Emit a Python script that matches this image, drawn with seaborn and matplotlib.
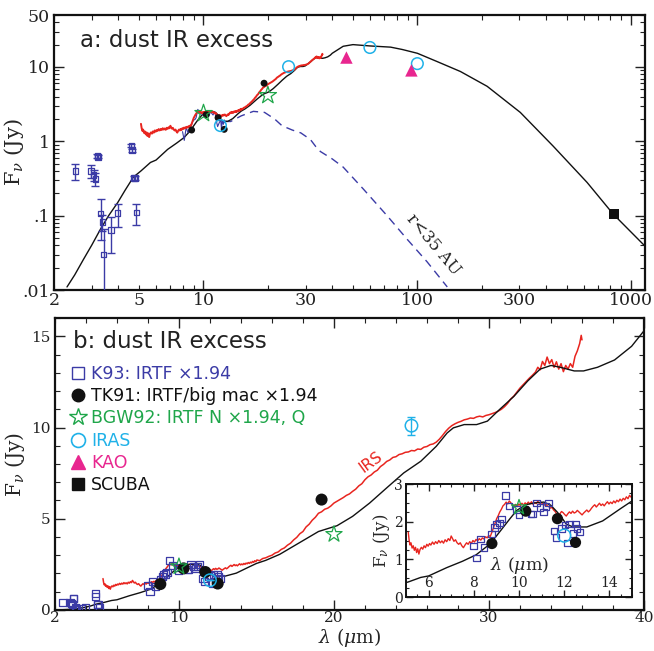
import seaborn as sns
import matplotlib.pyplot as plt
from matplotlib.ticker import FixedLocator, MultipleLocator, LogLocator, FuncFormatter
from matplotlib.lines import Line2D

BLUE = "#3b3ba6"
RED = "#e8251f"
GREEN = "#1fa64a"
CYAN = "#1fb1e8"
MAGENTA = "#e8268f"

# model SED (black line)
model_wl = [2.30, 2.50, 2.75, 3.00, 3.30, 3.60, 3.97, 4.30, 4.70, 5.10, 5.65, 6.00, 6.80, 7.50,
            8.10, 8.70, 9.00, 9.30, 9.60, 9.90, 10.30, 10.70, 11.10, 11.40, 11.70, 11.90, 12.10,
            12.40, 13.00, 13.70, 14.50, 15.00, 15.60, 16.50, 17.80, 19.00, 20.20, 21.20, 22.30,
            23.40, 24.50, 25.60, 26.60, 27.30, 27.70, 28.40, 29.20, 29.90, 30.70, 31.60, 32.50,
            33.30, 34.00, 34.60, 35.50, 36.10, 37.00, 38.10, 39.20, 40.00, 45.0, 50.0, 60.0,
            75.0, 85.0, 100.0, 124.0, 159.0, 212.0, 303.0, 432.0, 622.0, 824.0, 1160.0]
model_fl = [0.011, 0.016, 0.026, 0.040, 0.066, 0.10, 0.15, 0.22, 0.33, 0.40, 0.52, 0.56, 0.78, 0.95,
            1.12, 1.40, 1.62, 1.85, 2.08, 2.30, 2.45, 2.50, 2.52, 2.44, 2.25, 2.10, 1.93,
            1.86, 1.86, 2.02, 2.35, 2.55, 2.72, 3.05, 3.70, 4.30, 4.62, 5.13, 5.86,
            6.69, 7.51, 8.15, 8.97, 9.70, 9.98, 10.16, 10.16, 10.35, 11.00, 11.70, 12.55,
            13.20, 13.40, 13.30, 13.10, 13.10, 13.30, 13.70, 14.45, 15.30, 19.0, 20.0, 19.2,
            18.5, 17.2, 15.3, 11.8, 8.7, 5.5, 2.45, 0.86, 0.28, 0.105, 0.039]

# r<35 AU component (blue dashed)
inner_wl = [12.5, 13.4, 15.0, 17.1, 19.3, 21.5, 23.3, 26.0, 28.5, 31.6, 33.5, 35.2, 40.0, 45.0,
            56.0, 72.4, 89.7, 111.0, 138.0]
inner_fl = [1.85, 1.85, 2.20, 2.53, 2.45, 2.00, 1.62, 1.42, 1.30, 1.06, 0.85, 0.73, 0.58, 0.45,
            0.227, 0.099, 0.048, 0.024, 0.011]

# Spitzer IRS spectrum (red)
irs_wl = [5.10, 5.14, 5.18, 5.22, 5.27, 5.32, 5.37, 5.42, 5.47, 5.52, 5.57, 5.62, 5.68, 5.74, 5.80,
          5.86, 5.92, 5.98, 6.04, 6.10, 6.17, 6.24, 6.31, 6.38, 6.45, 6.52, 6.59, 6.66, 6.73, 6.80,
          6.87, 6.94, 7.00, 7.06, 7.12, 7.19, 7.26, 7.33, 7.40, 7.47, 7.54, 7.61, 7.68, 7.75, 7.82,
          7.89, 7.96, 8.03, 8.10, 8.17, 8.24, 8.31, 8.38, 8.45, 8.52, 8.59, 8.66, 8.73, 8.80, 8.87,
          8.94, 9.01, 9.08, 9.15, 9.22, 9.29, 9.36, 9.43, 9.50, 9.57, 9.64, 9.71, 9.78, 9.85, 9.92,
          9.99, 10.06, 10.13, 10.20, 10.27, 10.34, 10.41, 10.48, 10.55, 10.62, 10.69, 10.76, 10.83,
          10.90, 10.97, 11.04, 11.11, 11.18, 11.25, 11.32, 11.39, 11.46, 11.53, 11.60, 11.67, 11.74,
          11.81, 11.88, 11.95, 12.02, 12.09, 12.16, 12.23, 12.30, 12.37, 12.44, 12.51, 12.58, 12.65,
          12.72, 12.79, 12.86, 12.93, 13.00, 13.07, 13.14, 13.21, 13.28, 13.35, 13.42, 13.49, 13.56,
          13.63, 13.70, 13.77, 13.84, 13.91, 13.98, 14.05, 14.12, 14.19, 14.26, 14.33, 14.40, 14.47,
          14.54, 14.61, 14.68, 14.75, 14.82, 14.89, 14.96, 15.03,
          15.20, 15.40, 15.60, 15.80, 16.00, 16.20, 16.40, 16.60, 16.80, 17.00, 17.20, 17.40, 17.60,
          17.80, 18.00, 18.20, 18.40, 18.60, 18.80, 19.00, 19.20, 19.40, 19.60, 19.80, 20.00, 20.20,
          20.40, 20.60, 20.80, 21.00, 21.20, 21.40, 21.60, 21.80, 22.00, 22.20, 22.40, 22.60, 22.80,
          23.00, 23.20, 23.40, 23.60, 23.80, 24.00, 24.20, 24.40, 24.60, 24.80, 25.00, 25.20, 25.40,
          25.60, 25.80, 26.00, 26.20, 26.40, 26.60, 26.80, 27.00, 27.20, 27.40, 27.60, 27.80, 28.00,
          28.20, 28.40, 28.60, 28.80, 29.00, 29.20, 29.40, 29.60, 29.80, 30.00, 30.20, 30.40, 30.60,
          30.80, 31.00, 31.20, 31.40, 31.60, 31.80, 32.00, 32.20, 32.40, 32.60, 32.80, 33.00, 33.15,
          33.30, 33.45, 33.60, 33.75, 33.90, 34.05, 34.20, 34.35, 34.50, 34.65, 34.80, 34.95, 35.10,
          35.25, 35.40, 35.55, 35.70, 35.85, 35.95, 36.00]
irs_fl = [1.72, 1.50, 1.38, 1.44, 1.30, 1.36, 1.24, 1.32, 1.18, 1.28, 1.14, 1.26, 1.32, 1.27, 1.36,
          1.31, 1.40, 1.35, 1.42, 1.38, 1.46, 1.40, 1.47, 1.42, 1.50, 1.44, 1.49, 1.43, 1.52, 1.47,
          1.55, 1.50, 1.62, 1.55, 1.48, 1.52, 1.44, 1.40, 1.44, 1.36, 1.31, 1.38, 1.44, 1.40, 1.47,
          1.42, 1.50, 1.46, 1.53, 1.49, 1.55, 1.51, 1.57, 1.54, 1.60, 1.57, 1.63, 1.61, 1.72, 1.84,
          1.96, 2.08, 2.16, 2.26, 2.33, 2.42, 2.46, 2.52, 2.47, 2.55, 2.50, 2.45, 2.41, 2.46, 2.40,
          2.47, 2.43, 2.49, 2.44, 2.50, 2.46, 2.52, 2.47, 2.53, 2.46, 2.51, 2.48, 2.54,
          2.49, 2.52, 2.47, 2.44, 2.47, 2.42, 2.40, 2.36, 2.38, 2.31, 2.27, 2.20, 2.15,
          2.21, 2.27, 2.24, 2.19, 2.15, 2.21, 2.26, 2.22, 2.28, 2.23, 2.25, 2.30, 2.26,
          2.22, 2.18, 2.23, 2.27, 2.31, 2.26, 2.30, 2.36, 2.41, 2.45, 2.39, 2.44, 2.49,
          2.43, 2.47, 2.42, 2.48, 2.53, 2.47, 2.52, 2.48, 2.55, 2.50, 2.57, 2.53, 2.60,
          2.55, 2.62, 2.58, 2.66, 2.61, 2.70, 2.65, 2.74,
          2.70, 2.82, 2.86, 2.94, 3.00, 3.12, 3.18, 3.32, 3.40, 3.55, 3.66, 3.84, 3.98,
          4.18, 4.30, 4.55, 4.70, 4.92, 5.08, 5.30, 5.38, 5.52, 5.58, 5.70, 5.86, 5.96,
          6.06, 6.16, 6.28, 6.36, 6.50, 6.62, 6.80, 6.92, 7.14, 7.30, 7.40, 7.56, 7.66,
          7.86, 7.98, 8.14, 8.22, 8.36, 8.40, 8.52, 8.56, 8.64, 8.66, 8.74, 8.72, 8.82,
          8.80, 8.92, 8.96, 9.06, 9.10, 9.20, 9.36, 9.56, 9.78, 9.96, 10.10, 10.20, 10.28,
          10.34, 10.42, 10.46, 10.52, 10.50, 10.58, 10.62, 10.58, 10.66, 10.70, 10.76, 10.82, 10.90,
          11.00, 11.14, 11.32, 11.56, 11.72, 11.94, 12.16, 12.34, 12.52, 12.70, 12.86, 13.04, 13.30,
          13.16, 13.62, 13.40, 13.86, 13.50, 13.72, 13.30, 13.60, 13.20, 13.50, 13.06, 13.40, 13.20,
          13.50, 13.30, 13.90, 14.20, 14.60, 15.05, 14.80]

# K93 near-IR photometry with errors
k93_nir_wl = [2.52, 2.97, 3.06, 3.12, 3.19, 3.21, 3.30, 3.37, 3.41, 3.70, 3.97, 4.60, 4.62, 4.74, 4.78, 4.85]
k93_nir_fl = [0.40, 0.40, 0.35, 0.31, 0.64, 0.62, 0.107, 0.082, 0.030, 0.064, 0.108, 0.88, 0.76, 0.32, 0.32, 0.11]
k93_nir_err = [0.10, 0.08, 0.06, 0.06, 0.04, 0.03, 0.06, 0.02, 0.036, 0.033, 0.037, 0.04, 0.03, 0.02, 0.02, 0.035]

# K93 mid-IR spectrophotometry
k93_mir_wl = [7.98, 8.13, 8.30, 8.46, 8.79, 8.91, 9.01, 9.13, 9.23, 9.41, 9.56, 9.90, 10.00, 10.27,
              10.52, 10.60, 10.78, 10.93, 11.08, 11.19, 11.30, 11.55, 11.64, 11.89, 12.04, 12.14,
              12.23, 12.38, 12.51, 12.56, 12.70]
k93_mir_fl = [1.35, 1.03, 1.54, 1.31, 1.67, 1.85, 1.93, 1.97, 2.07, 2.69, 2.42, 2.33, 2.19, 2.33,
              2.20, 2.20, 2.49, 2.38, 2.26, 2.40, 2.49, 1.75, 1.58, 1.82, 1.91, 1.44,
              1.94, 1.69, 1.94, 1.82, 1.73]

tk91_wl = [8.8, 10.3, 11.7, 12.5, 19.2]
tk91_fl = [1.42, 2.28, 2.08, 1.45, 6.05]

bgw92_wl = [10.0, 20.0]
bgw92_fl = [2.38, 4.15]

iras_wl = [12.0, 25.0, 60.0, 100.0]
iras_fl = [1.63, 10.1, 18.3, 11.1]
iras_err = [0.0, 0.5, 0.0, 0.0]

kao_wl = [46.6, 93.8]
kao_fl = [13.4, 9.0]

scuba_wl = [830.0]
scuba_fl = [0.105]

sns.set_style("ticks")
plt.rcParams["font.family"] = ["DejaVu Serif"]
plt.rcParams["mathtext.fontset"] = "dejavuserif"
for a in ("x", "y"):
    plt.rcParams[f"{a}tick.direction"] = "in"
    plt.rcParams[f"{a}tick.major.size"] = 7
    plt.rcParams[f"{a}tick.minor.size"] = 3.5
    plt.rcParams[f"{a}tick.major.width"] = 1.0
    plt.rcParams[f"{a}tick.minor.width"] = 0.8
    plt.rcParams[f"{a}tick.color"] = "#222222"
plt.rcParams["xtick.top"] = True
plt.rcParams["ytick.right"] = True

fig = plt.figure(figsize=(6.54, 6.51), dpi=100)
ax1 = fig.add_axes([0.0826, 0.5545, 0.9036, 0.4224])
ax2 = fig.add_axes([0.084, 0.063, 0.9007, 0.4485])
ax3 = fig.add_axes([0.6208, 0.0829, 0.3456, 0.1736])

for ax in (ax1, ax2, ax3):
    for sp in ax.spines.values():
        sp.set_linewidth(1.6)
        sp.set_color("#111111")

# ---- panel a: log-log SED ----
ax = ax1
ax.set_xscale("log")
ax.set_yscale("log")
sns.lineplot(x=model_wl, y=model_fl, ax=ax, color="#111111", lw=1.0, sort=False, estimator=None, zorder=3)
sns.lineplot(x=inner_wl, y=inner_fl, ax=ax, color=BLUE, lw=1.0, sort=False, estimator=None, zorder=2)
ax.lines[-1].set_linestyle((0, (6, 4)))
sns.lineplot(x=irs_wl, y=irs_fl, ax=ax, color=RED, lw=1.4, sort=False, estimator=None, zorder=4)
sns.lineplot(x=k93_mir_wl, y=k93_mir_fl, ax=ax, color=BLUE, lw=0.8, sort=False, estimator=None, zorder=3)
ax.errorbar(k93_nir_wl, k93_nir_fl, yerr=k93_nir_err, fmt="none", ecolor=BLUE, elinewidth=1.0,
            capsize=3, capthick=1.0, zorder=4)
sns.scatterplot(x=k93_nir_wl, y=k93_nir_fl, ax=ax, marker="s", s=16, facecolor="none",
                edgecolor=BLUE, linewidth=0.9, zorder=5)
sns.scatterplot(x=tk91_wl, y=tk91_fl, ax=ax, marker="o", s=25, color="#111111",
                edgecolor="none", zorder=5)
sns.scatterplot(x=bgw92_wl, y=bgw92_fl, ax=ax, marker="*", s=170, facecolor="none",
                edgecolor=GREEN, linewidth=0.9, zorder=6)
sns.scatterplot(x=iras_wl, y=iras_fl, ax=ax, marker="o", s=70, facecolor="none",
                edgecolor=CYAN, linewidth=1.1, zorder=6)
sns.scatterplot(x=kao_wl, y=kao_fl, ax=ax, marker="^", s=80, color=MAGENTA, edgecolor="none", zorder=6)
sns.scatterplot(x=scuba_wl, y=scuba_fl, ax=ax, marker="s", s=60, color="#111111", edgecolor="none", zorder=6)

ax.set_xlim(2, 1160)
ax.set_ylim(0.01, 50)
ax.xaxis.set_major_locator(FixedLocator([10, 100, 1000]))
ax.xaxis.set_minor_locator(LogLocator(base=10, subs=range(2, 10), numticks=20))
ax.xaxis.set_major_formatter(FuncFormatter(lambda v, p: f"{v:g}"))
ax.xaxis.set_minor_formatter(FuncFormatter(lambda v, p: f"{v:g}" if round(v) in (2, 5, 30, 300) else ""))
ax.yaxis.set_major_locator(FixedLocator([0.01, 0.1, 1, 10]))
ax.yaxis.set_minor_locator(LogLocator(base=10, subs=range(2, 10), numticks=20))
ylab = {0.01: ".01", 0.1: ".1", 1: "1", 10: "10"}
ax.yaxis.set_major_formatter(FuncFormatter(lambda v, p: ylab.get(round(v, 3), f"{v:g}")))
ax.yaxis.set_minor_formatter(FuncFormatter(lambda v, p: "50" if abs(v - 50) < 1 else ""))
ax.tick_params(which="both", labelsize=12.5)
ax.tick_params(axis="x", which="both", pad=1.5)
ax.tick_params(axis="y", which="both", pad=3)
ax.set_xlabel("")
ax.set_ylabel(r"F$_\nu$ (Jy)", fontsize=15)
ax.yaxis.set_label_coords(-0.048, 0.5)
ax.text(0.044, 0.909, "a: dust IR excess", transform=ax.transAxes, fontsize=16.5,
        family="DejaVu Sans", va="center", ha="left", color="#222222")
ax.text(119, 0.041, "r<35 AU", rotation=-50, fontsize=12, ha="center", va="center", color="#222222")

# ---- panel b: linear SED ----
ax = ax2
sns.lineplot(x=model_wl, y=model_fl, ax=ax, color="#111111", lw=1.0, sort=False, estimator=None, zorder=3)
sns.lineplot(x=irs_wl, y=irs_fl, ax=ax, color=RED, lw=1.1, sort=False, estimator=None, zorder=2)
sns.scatterplot(x=k93_nir_wl + k93_mir_wl, y=k93_nir_fl + k93_mir_fl, ax=ax, marker="s", s=26,
                facecolor="none", edgecolor=BLUE, linewidth=0.9, zorder=4)
sns.scatterplot(x=tk91_wl, y=tk91_fl, ax=ax, marker="o", s=75, color="#111111", edgecolor="none", zorder=5)
sns.scatterplot(x=bgw92_wl, y=bgw92_fl, ax=ax, marker="*", s=150, facecolor="none",
                edgecolor=GREEN, linewidth=0.9, zorder=6)
ax.errorbar(iras_wl, iras_fl, yerr=iras_err, fmt="none", ecolor=CYAN, elinewidth=1.0,
            capsize=3, capthick=1.0, zorder=5)
sns.scatterplot(x=iras_wl, y=iras_fl, ax=ax, marker="o", s=80, facecolor="none",
                edgecolor=CYAN, linewidth=1.1, zorder=6)
ax.set_xlim(2, 40)
ax.set_ylim(0, 16)
ax.xaxis.set_major_locator(FixedLocator([10, 20, 30, 40]))
ax.xaxis.set_minor_locator(MultipleLocator(2))
ax.xaxis.set_minor_formatter(FuncFormatter(lambda v, p: "2" if abs(v - 2) < 0.01 else ""))
ax.yaxis.set_major_locator(MultipleLocator(5))
ax.yaxis.set_minor_locator(MultipleLocator(1))
ax.tick_params(which="both", labelsize=11)
ax.tick_params(axis="x", which="both", pad=1)
ax.tick_params(axis="y", which="both", pad=3)
ax.set_xlabel(r"$\lambda$ ($\mu$m)", fontsize=13.5)
ax.xaxis.set_label_coords(0.5, -0.054)
ax.set_ylabel(r"F$_\nu$ (Jy)", fontsize=14.5)
ax.yaxis.set_label_coords(-0.048, 0.5)
ax.text(0.03, 0.918, "b: dust IR excess", transform=ax.transAxes, fontsize=16.5,
        family="DejaVu Sans", va="center", ha="left", color="#222222")
ax.text(22.4, 8.1, "IRS", rotation=36, fontsize=11, family="DejaVu Sans", color=RED,
        ha="center", va="center")

handles = [
    Line2D([], [], ls="none", marker="s", ms=9, mfc="none", mec=BLUE, mew=1.0),
    Line2D([], [], ls="none", marker="o", ms=9, mfc="#111111", mec="#111111"),
    Line2D([], [], ls="none", marker="*", ms=13, mfc="none", mec=GREEN, mew=1.0),
    Line2D([], [], ls="none", marker="o", ms=10, mfc="none", mec=CYAN, mew=1.2),
    Line2D([], [], ls="none", marker="^", ms=10, mfc=MAGENTA, mec=MAGENTA),
    Line2D([], [], ls="none", marker="s", ms=8, mfc="#111111", mec="#111111"),
]
labels = ["K93: IRTF \u00d71.94", "TK91: IRTF/big mac \u00d71.94", "BGW92: IRTF N \u00d71.94, Q",
          "IRAS", "KAO", "SCUBA"]
label_colors = [BLUE, "#111111", GREEN, CYAN, MAGENTA, "#111111"]
leg = ax.legend(handles, labels, loc="upper left", bbox_to_anchor=(0.024, 0.840), frameon=False,
                prop={"family": "DejaVu Sans", "size": 12.5}, handlelength=1.0, handletextpad=0.25,
                labelspacing=0.25, borderpad=0, borderaxespad=0)
for t, c in zip(leg.get_texts(), label_colors):
    t.set_color(c)

# ---- inset ----
ax = ax3
ax.set_facecolor("white")
sns.lineplot(x=model_wl, y=model_fl, ax=ax, color="#111111", lw=1.0, sort=False, estimator=None, zorder=3)
sns.lineplot(x=irs_wl, y=irs_fl, ax=ax, color=RED, lw=1.0, sort=False, estimator=None, zorder=2)
sns.scatterplot(x=k93_mir_wl, y=k93_mir_fl, ax=ax, marker="s", s=22, facecolor="none",
                edgecolor=BLUE, linewidth=0.9, zorder=4)
sns.scatterplot(x=tk91_wl, y=tk91_fl, ax=ax, marker="o", s=65, color="#111111", edgecolor="none", zorder=5)
sns.scatterplot(x=bgw92_wl, y=bgw92_fl, ax=ax, marker="*", s=130, facecolor="none",
                edgecolor=GREEN, linewidth=0.9, zorder=6)
sns.scatterplot(x=iras_wl, y=iras_fl, ax=ax, marker="o", s=85, facecolor="none",
                edgecolor=CYAN, linewidth=1.1, zorder=6)
ax.set_xlim(5, 15)
ax.set_ylim(0, 3)
ax.xaxis.set_major_locator(MultipleLocator(2))
ax.xaxis.set_minor_locator(MultipleLocator(0.5))
ax.yaxis.set_major_locator(MultipleLocator(1))
ax.yaxis.set_minor_locator(MultipleLocator(0.25))
ax.tick_params(which="major", length=5)
ax.tick_params(which="minor", length=2.5)
ax.tick_params(which="both", labelsize=10)
ax.tick_params(axis="x", pad=-15)
ax.tick_params(axis="y", pad=2)
ax.set_xlabel(r"$\lambda$ ($\mu$m)", fontsize=12.5)
ax.xaxis.set_label_coords(0.5, 0.37)
ax.set_ylabel(r"F$_\nu$ (Jy)", fontsize=12, labelpad=2)
for sp in ax.spines.values():
    sp.set_linewidth(1.4)

fig.savefig("out.png", dpi=100)
